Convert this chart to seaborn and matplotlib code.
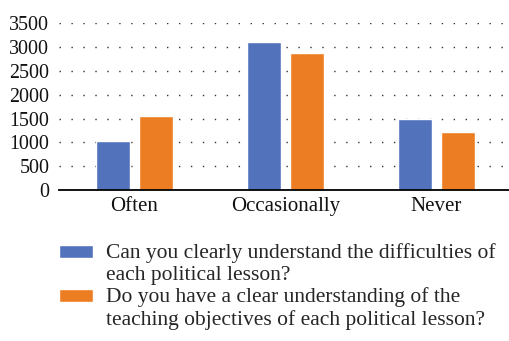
import matplotlib
matplotlib.use("Agg")
import matplotlib.pyplot as plt
import seaborn as sns
import pandas as pd

# values
categories = ["Often", "Occasionally", "Never"]
series_names = [
    "Can you clearly understand the difficulties of\neach political lesson?",
    "Do you have a clear understanding of the\nteaching objectives of each political lesson?",
]
understand_difficulties = [1030, 3100, 1490]
understand_objectives = [1550, 2880, 1220]
yticks = [0, 500, 1000, 1500, 2000, 2500, 3000, 3500]

sns.set_theme(style="white")
plt.rcParams["font.family"] = ["Liberation Serif", "DejaVu Serif"]

df = pd.DataFrame({
    "category": categories * 2,
    "series": [series_names[0]] * 3 + [series_names[1]] * 3,
    "value": understand_difficulties + understand_objectives,
})

fig = plt.figure(figsize=(5.1, 3.41), dpi=100)
ax = fig.add_axes([59 / 510, 1 - 190 / 341, 453 / 510, (190 - 23.3) / 341])

sns.barplot(data=df, x="category", y="value", hue="series", order=categories,
            hue_order=series_names, palette=["#5273BC", "#ED7D22"],
            width=0.57, gap=0.21, saturation=1, ax=ax, legend=True)

ax.set_ylim(0, 3500)
ax.set_xlim(-0.5, 2.5)
ax.set_yticks(yticks)
ax.set_xlabel("")
ax.set_ylabel("")
ax.tick_params(axis="both", length=0, labelsize=14.4, colors="#111111")
ax.tick_params(axis="x", labelsize=15, pad=5)
ax.tick_params(axis="y", pad=7)
ax.yaxis.grid(True, color="#333333", linewidth=1.0, linestyle=(0, (1, 7.6)))
ax.set_axisbelow(True)
for s in ["top", "right", "left"]:
    ax.spines[s].set_visible(False)
ax.spines["bottom"].set_color("black")
ax.spines["bottom"].set_linewidth(1.3)

handles, labels = ax.get_legend_handles_labels()
ax.get_legend().remove()
leg = fig.legend(handles, labels, loc="upper left", bbox_to_anchor=(59 / 510, 1 - 243 / 341),
                 frameon=False, fontsize=15.5, handlelength=1.6, handleheight=0.55,
                 handletextpad=0.6, labelspacing=0.1, borderpad=0, borderaxespad=0)
for t in leg.get_texts():
    t.set_linespacing(1.22)
# lift the colour patches to the first line of each label
for h in leg.legend_handles:
    h.set_y(h.get_y() + 8.8)

fig.savefig("out.png", dpi=100)
